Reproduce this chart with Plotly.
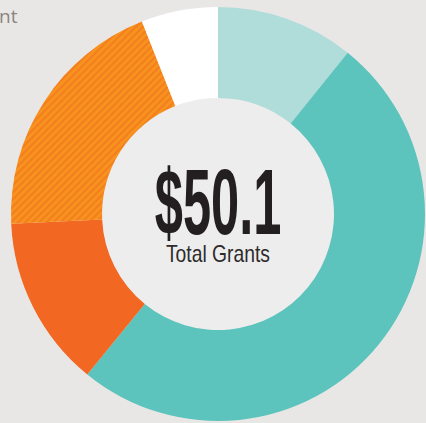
import plotly.graph_objects as go

# Slices, clockwise from 12 o'clock ($ millions)
labels = ["Light teal", "Teal", "Orange", "Orange hatched", "White"]
values = [5.4, 25.1, 6.7, 9.9, 3.0]
colors = ["#b0ddd9", "#5cc4bc", "#f26722", "#f7941d", "#ffffff"]
patterns = ["", "", "", "/", ""]
total_text = "$50.1"
sub_text = "Total Grants"

W, H = 426, 423
BG = "#e9e7e6"
HOLE_BG = "#ededed"

cx, cy, r_out, r_in = 218, 214, 207, 116

fig = go.Figure()

fig.add_trace(
    go.Pie(
        labels=labels,
        values=values,
        sort=False,
        direction="clockwise",
        rotation=0,
        hole=r_in / r_out,
        textinfo="none",
        hoverinfo="label+value",
        showlegend=False,
        marker=dict(
            colors=colors,
            line=dict(width=0),
            pattern=dict(
                shape=patterns,
                fgcolor="#f26722",
                bgcolor="#f7941d",
                size=5,
                solidity=0.45,
                fillmode="overlay",
            ),
        ),
        domain=dict(
            x=[(cx - r_out) / W, (cx + r_out) / W],
            y=[(H - cy - r_out) / H, (H - cy + r_out) / H],
        ),
    )
)

# lighter disc behind the hole
fig.add_shape(
    type="circle",
    xref="paper",
    yref="paper",
    x0=(cx - r_in) / W,
    x1=(cx + r_in) / W,
    y0=(H - cy - r_in) / H,
    y1=(H - cy + r_in) / H,
    fillcolor=HOLE_BG,
    line=dict(width=0),
    layer="below",
)

fig.add_annotation(
    x=cx / W,
    y=(H - 202) / H,
    xref="paper",
    yref="paper",
    text=total_text,
    showarrow=False,
    font=dict(family="Liberation Sans", size=92, weight="bold", color="#231f20"),
    xanchor="center",
    yanchor="middle",
)
fig.add_annotation(
    x=cx / W,
    y=(H - 254) / H,
    xref="paper",
    yref="paper",
    text=sub_text,
    showarrow=False,
    font=dict(family="Liberation Sans", size=23, color="#2e2b2b"),
    xanchor="center",
    yanchor="middle",
)
# cut-off label at top left
fig.add_annotation(
    x=20 / W,
    y=(H - 16) / H,
    xref="paper",
    yref="paper",
    text="nt",
    showarrow=False,
    font=dict(family="Open Sans", size=19, color="#8a8480"),
    xanchor="right",
    yanchor="middle",
)

fig.update_layout(
    width=W,
    height=H,
    margin=dict(l=0, r=0, t=0, b=0),
    paper_bgcolor=BG,
    plot_bgcolor=BG,
)

# squeeze the centre texts horizontally (condensed look of the original)
post = """
document.body.style.margin='0';document.body.style.overflow='hidden';
var gd = document.getElementById('{plot_id}');
var sx = [0.55, 0.84];
function squeeze(){
  var t = gd.querySelectorAll('.annotation-text');
  for (var i = 0; i < sx.length && i < t.length; i++) {
    t[i].style.transformBox = 'fill-box';
    t[i].style.transformOrigin = 'center';
    t[i].style.transform = 'scaleX(' + sx[i] + ')';
  }
}
squeeze();
gd.on('plotly_afterplot', squeeze);
setTimeout(squeeze, 50);
"""

fig.write_html("out.html", config={"displayModeBar": False}, post_script=post)
